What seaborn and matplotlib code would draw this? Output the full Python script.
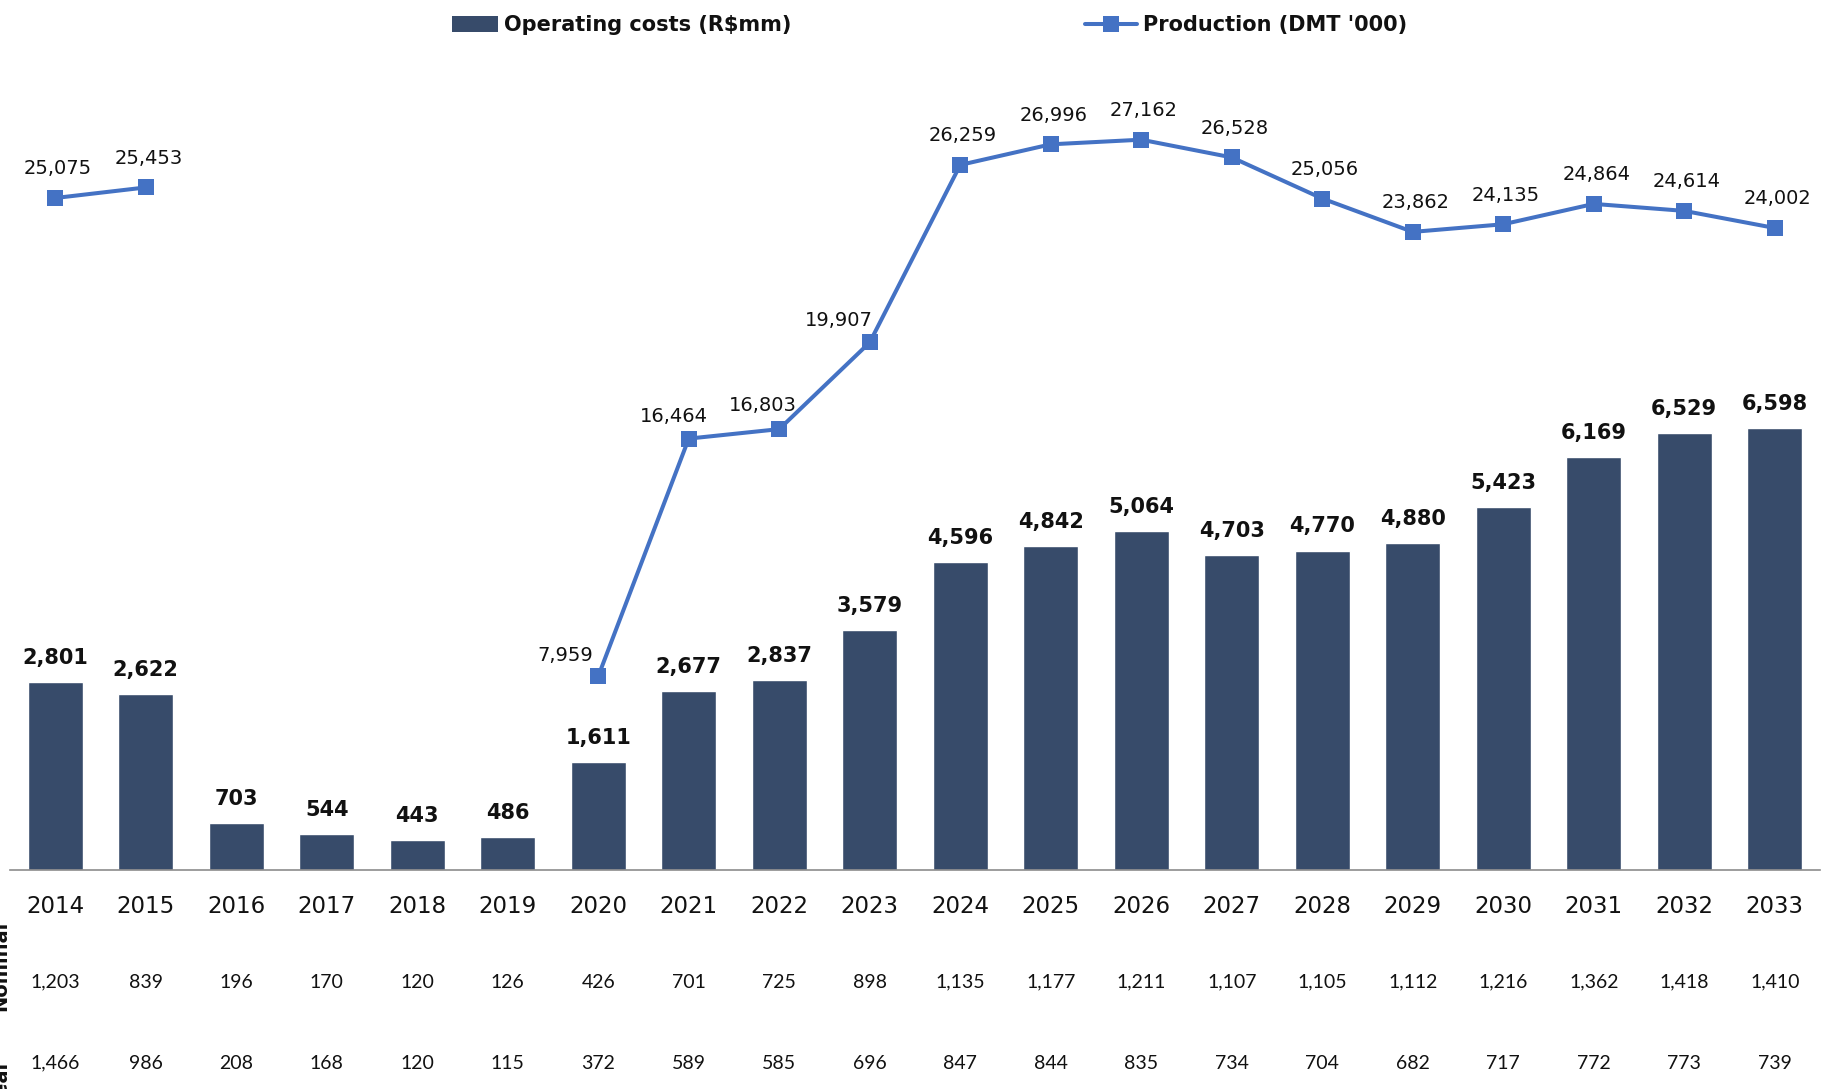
import numpy as np
import pandas as pd
import matplotlib
matplotlib.use("Agg")
import matplotlib.pyplot as plt
import seaborn as sns
from matplotlib.patches import Patch
from matplotlib.lines import Line2D
from matplotlib import transforms

# ---- data -------------------------------------------------------------
years = list(range(2014, 2034))
opex = [2801, 2622, 703, 544, 443, 486, 1611, 2677, 2837, 3579,
        4596, 4842, 5064, 4703, 4770, 4880, 5423, 6169, 6529, 6598]
production = [25075, 25453, np.nan, np.nan, np.nan, np.nan, 7959, 16464, 16803, 19907,
              26259, 26996, 27162, 26528, 25056, 23862, 24135, 24864, 24614, 24002]
nominal = [1203, 839, 196, 170, 120, 126, 426, 701, 725, 898,
           1135, 1177, 1211, 1107, 1105, 1112, 1216, 1362, 1418, 1410]
real = [1466, 986, 208, 168, 120, 115, 372, 589, 585, 696,
        847, 844, 835, 734, 704, 682, 717, 772, 773, 739]
row_labels = ["Nominal", "Real"]
legend_labels = ["Operating costs (R$mm)", "Production (DMT '000)"]

# ---- style ------------------------------------------------------------
BAR = "#374B6A"
LINE = "#4472C4"
TXT = "#111111"
AXIS = "#8C8C8C"

sns.set_theme(style="white")
plt.rcParams["font.family"] = ["DejaVu Sans"]

W, H = 1825, 1089
fig = plt.figure(figsize=(W / 100, H / 100), dpi=100)
ax = fig.add_axes([10 / W, (H - 870) / H, 1810 / W, 820 / H])

# ---- bars -------------------------------------------------------------
bars = pd.DataFrame({"year": years, "opex": opex})
sns.barplot(data=bars, x="year", y="opex", native_scale=True, color=BAR,
            saturation=1, width=0.61, ax=ax, zorder=2)
ax.set_xlim(years[0] - 0.5, years[-1] + 0.5)
ax.set_ylim(0, 12243)

for yr, v in zip(years, opex):
    ax.annotate(f"{v:,}", (yr, v), xytext=(0, 13), textcoords="offset points",
                ha="center", va="baseline", fontsize=15, fontweight="bold", color=TXT)

# ---- production line (secondary scale) --------------------------------
ax2 = ax.twinx()
prod = pd.DataFrame({"year": years, "production": production})
prod["segment"] = prod["production"].isna().cumsum()
prod = prod.dropna()
sns.lineplot(data=prod, x="year", y="production", units="segment", estimator=None,
             color=LINE, lw=2.9, marker="s", markersize=11, markeredgewidth=0,
             ax=ax2, zorder=3)
ax2.set_ylim(1024, 30372)
ax2.set_xlim(years[0] - 0.5, years[-1] + 0.5)

label_offsets = {2020: (-24, 11), 2021: (-11, 12), 2022: (-12, 13), 2023: (-22, 12)}
for yr, v in zip(years, production):
    if np.isnan(v):
        continue
    dx, dy = label_offsets.get(yr, (2, 17))
    ax2.annotate(f"{int(v):,}", (yr, v), xytext=(dx, dy), textcoords="offset points",
                 ha="center", va="baseline", fontsize=14, color=TXT)

# ---- axes cosmetics ---------------------------------------------------
for a in (ax, ax2):
    for s in ("top", "right", "left"):
        a.spines[s].set_visible(False)
    a.set_ylabel("")
    a.set_xlabel("")
    a.set_yticks([])
ax2.spines["bottom"].set_visible(False)
ax.spines["bottom"].set_color(AXIS)
ax.spines["bottom"].set_linewidth(1.2)

ax.set_xticks(years)
ax.set_xticklabels([str(y) for y in years], fontsize=16.5, color=TXT)
ax.set_xticks(np.arange(years[0] - 0.5, years[-1] + 1, 1.0), minor=True)
ax.tick_params(axis="x", which="major", length=0, pad=18)
ax.tick_params(axis="x", which="minor", length=6.5, width=1.2, color=AXIS, direction="out")
ax2.tick_params(axis="x", which="both", length=0, labelbottom=False)

# ---- data table below the axis ----------------------------------------
trans = transforms.blended_transform_factory(ax.transData, ax.transAxes)
for row_vals, ypos in ((nominal, -0.1366), (real, -0.2354)):
    for yr, v in zip(years, row_vals):
        ax.text(yr, ypos, f"{v:,}", transform=trans, ha="center", va="center",
                fontsize=14, color=TXT, family=["Lato", "DejaVu Sans"])

for lab, ypx in zip(row_labels, (966, 1085)):
    fig.text(10 / W, 1 - ypx / H, lab, rotation=90, ha="right", va="center",
             fontsize=14, fontweight="bold", color=TXT)

# ---- legend -----------------------------------------------------------
h_bar = Patch(facecolor=BAR, edgecolor="none")
h_line = Line2D([], [], color=LINE, lw=2.9, marker="s", markersize=11, markeredgewidth=0)
common = dict(loc="center left", frameon=False, borderpad=0,
              borderaxespad=0, handletextpad=0.3, labelcolor=TXT,
              prop={"size": 15, "weight": "bold"})
fig.legend([h_bar], [legend_labels[0]], bbox_to_anchor=(452 / W, 1 - 25 / H),
           handlelength=2.2, handleheight=0.8, **common)
fig.legend([h_line], [legend_labels[1]], bbox_to_anchor=(1085 / W, 1 - 25 / H),
           handlelength=2.5, **common)

fig.savefig("out.png", dpi=100)
